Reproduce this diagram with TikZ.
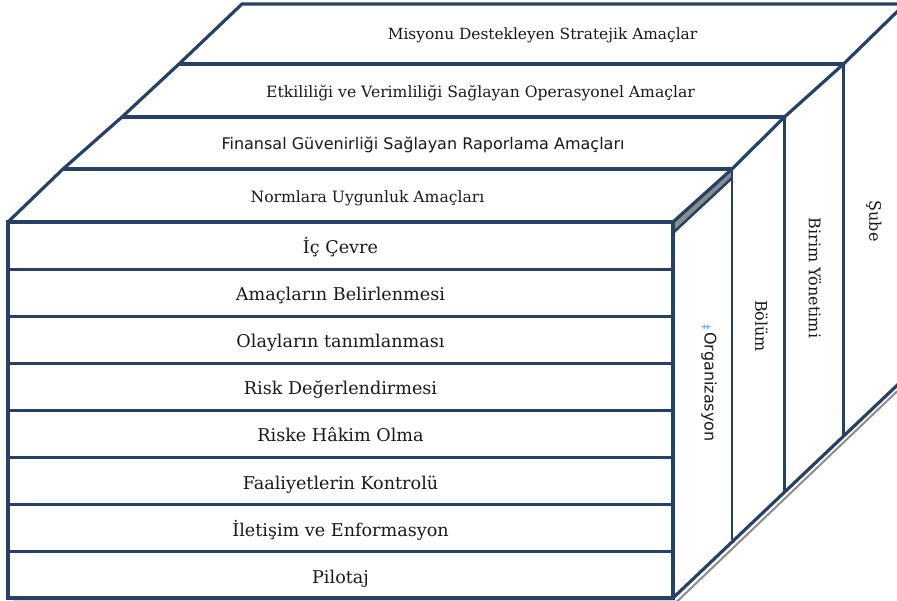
\documentclass[tikz,border=0pt]{standalone}
\usepackage{fontspec}
\setmainfont{DejaVu Serif}
\newfontfamily\sansf{DejaVu Sans}
\definecolor{ln}{RGB}{38,64,102}
\definecolor{sh}{RGB}{140,140,140}
\definecolor{mark}{RGB}{70,160,225}
\definecolor{txt}{RGB}{25,25,25}
\tikzset{
  edge/.style={draw=ln, line width=3.2pt, line join=miter},
  sideedge/.style={draw=ln, line width=2.5pt},
  shadowline/.style={draw=sh, line width=2pt},
  rowlbl/.style={font=\fontsize{17.6}{20}\selectfont, text=txt, anchor=base, inner sep=0pt},
  toplbl/.style={font=\fontsize{15.6}{19}\selectfont, text=txt, anchor=base, inner sep=0pt},
  sidelbl/.style={font=\fontsize{16}{19}\selectfont, text=txt, rotate=-90, inner sep=0pt}
}
\begin{document}
\begin{tikzpicture}[x=1pt,y=-1pt]
\useasboundingbox (0,0) rectangle (897,601);
\clip (0,0) rectangle (897,601);
% shadows
\draw[shadowline] (13,601.5) -- (677,601.5) -- (909,380);
% gray wedge between top face and side face
\fill[sh] (673,222) -- (732,169) -- (732,178) -- (675,232) -- cycle;
% top faces
\draw[edge] (8,222) -- (63,169) -- (122,117) -- (179,64) -- (242,4) -- (905,4);
\draw[edge] (179,64) -- (843.5,64);
\draw[edge] (122,117) -- (784.5,117);
\draw[edge] (63,169) -- (732,169);
\draw[edge] (673,222) -- (732,169) -- (784.5,117) -- (843.5,64) -- (905,4);
% side verticals
\draw[sideedge] (732,169) -- (732,540);
\draw[sideedge] (784.5,117) -- (784.5,491.5);
\draw[sideedge] (843.5,64) -- (843.5,435);
\draw[sideedge] (674,232) -- (732,178);
% front face
\draw[edge] (8,222) rectangle (673,598);
\foreach \yy in {269.5,316.5,363.5,410.5,457.5,504.5,551.5}
  \draw[edge] (8,\yy) -- (673,\yy);
% bottom diagonal
\draw[edge] (673,598) -- (909,374);
% top labels
\node[toplbl, font=\fontsize{15.4}{19}\selectfont] (t1) at (542.5,39.3) {Misyonu Destekleyen Stratejik Amaçlar};
\node[toplbl] (t2) at (480.5,97.3) {Etkililiği ve Verimliliği Sağlayan Operasyonel Amaçlar};
\node[toplbl, font=\sansf\fontsize{16}{19}\selectfont] (t3) at (423,150) {Finansal Güvenirliği Sağlayan Raporlama Amaçları};
\node[toplbl] (t4) at (367.5,202.5) {Normlara Uygunluk Amaçları};
% front rows
\node[rowlbl] (r1) at (340.5,254) {İç Çevre};
\node[rowlbl] (r2) at (340.5,301) {Amaçların Belirlenmesi};
\node[rowlbl] (r3) at (340.5,348) {Olayların tanımlanması};
\node[rowlbl] (r4) at (340.5,395) {Risk Değerlendirmesi};
\node[rowlbl] (r5) at (340.5,442) {Riske Hâkim Olma};
\node[rowlbl] (r6) at (340.5,489) {Faaliyetlerin Kontrolü};
\node[rowlbl] (r7) at (340.5,536) {İletişim ve Enformasyon};
\node[rowlbl] (r8) at (340.5,583) {Pilotaj};
% side labels
\node[sidelbl, font=\sansf\fontsize{16}{19}\selectfont] (s1) at (709,387) {Organizasyon};
\node[sidelbl, font=\sansf\fontsize{11}{12}\selectfont, text=mark] (s1m) at (706,327) {‡};
\node[sidelbl] (s2) at (761.5,326) {Bölüm};
\node[sidelbl] (s3) at (815,278) {Birim Yönetimi};
\node[sidelbl] (s4) at (874,221) {Şube};
\end{tikzpicture}
\end{document}
